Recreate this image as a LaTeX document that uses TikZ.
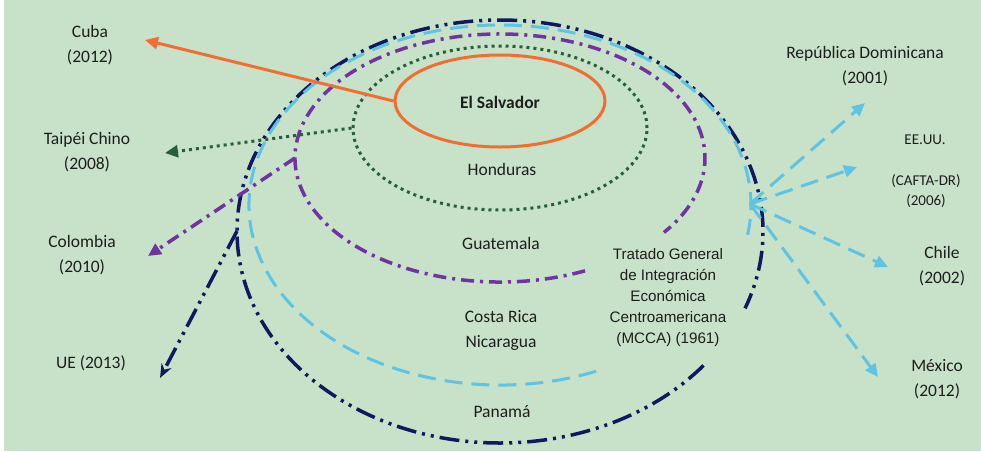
\documentclass[tikz,border=0pt]{standalone}
\usepackage{fontspec}
\setmainfont{Carlito}
\newfontfamily\arialfont{Liberation Sans}
\usetikzlibrary{shapes.geometric,arrows.meta,calc}
\definecolor{bg}{RGB}{200,225,201}
\definecolor{orng}{RGB}{240,110,50}
\definecolor{dgreen}{RGB}{38,96,58}
\definecolor{purp}{RGB}{112,52,160}
\definecolor{lblue}{RGB}{95,195,225}
\definecolor{navy}{RGB}{15,25,95}
\definecolor{txt}{RGB}{30,30,30}
\begin{document}
\begin{tikzpicture}[x=1pt,y=-1pt,
  lbl/.style={font=\fontsize{17.5}{25}\selectfont, text=txt, align=center, inner sep=0pt},
  smalllbl/.style={font=\fontsize{15}{20}\selectfont, text=txt, align=center, inner sep=0pt},
  tratado/.style={font=\arialfont\fontsize{15.2}{21.2}\selectfont, text=txt, align=center, inner sep=0pt},
  orangeline/.style={draw=orng, line width=3pt},
  dotline/.style={draw=dgreen, line width=3pt, dash pattern=on 3pt off 4pt},
  purpline/.style={draw=purp, line width=3.5pt, dash pattern=on 13pt off 6pt on 3pt off 6pt},
  blueline/.style={draw=lblue, line width=3pt, dash pattern=on 18pt off 9pt},
  navyline/.style={draw=navy, line width=3.5pt, dash pattern=on 20pt off 6pt on 3pt off 6pt on 3pt off 6pt},
  tip/.style={-{Triangle[length=13pt,width=12pt]}},
  ntip/.style={-{Stealth[length=14pt,width=11pt]}}
]
\fill[white] (0,0) rectangle (981,451);
\fill[bg] (4,0) rectangle (981,451);
\useasboundingbox (0,0) rectangle (981,451);

% outer open ellipses
\draw[navyline] ($(500,231.5)+(39.3:263 and 211.5)$) arc[start angle=39.3, end angle=381.3, x radius=263, y radius=211.5];
\draw[blueline] ($(500,205)+(67.5:251 and 180)$) arc[start angle=67.5, end angle=369.5, x radius=251, y radius=180];
\draw[purpline] ($(500,158)+(65.5:205 and 124)$) arc[start angle=65.5, end angle=396.9, x radius=205, y radius=124];

% closed ellipses
\node[ellipse, dotline, minimum width=294pt, minimum height=164pt, inner sep=0pt] (hon) at (500,128) {};
\node[ellipse, orangeline, minimum width=210pt, minimum height=92pt, inner sep=0pt] (sal) at (500,101) {};

% connector start points
\coordinate (purpL) at (295,158);
\coordinate (navyL) at (237,231);
\coordinate (blueR) at (750,204);

% arrow end points
\coordinate (cubaT) at (145,40);
\coordinate (taipT) at (165,153);
\coordinate (colT) at (148,256);
\coordinate (ueT) at (160,378);
\coordinate (rdT) at (865,103);
\coordinate (usT) at (857,167);
\coordinate (chT) at (888,267);
\coordinate (mxT) at (878,377);

% labels
\node[lbl] (cuba) at (90,45.5) {Cuba\\(2012)};
\node[lbl] (taip) at (87,152.5) {Taipéi Chino\\(2008)};
\node[lbl] (col) at (82,255.5) {Colombia\\(2010)};
\node[lbl] (ue) at (91,363) {UE (2013)};
\node[lbl] (rd) at (865,66) {República Dominicana\\(2001)};
\node[smalllbl] (us) at (925,140) {EE.UU.};
\node[smalllbl] (cafta) at (926,191) {(CAFTA-DR)\\(2006)};
\node[lbl] (ch) at (942,266) {Chile\\(2002)};
\node[lbl] (mx) at (937,379.5) {México\\(2012)};

\node[lbl, font=\bfseries\fontsize{17.5}{25}\selectfont] (salt) at (500,102) {El Salvador};
\node[lbl] (hont) at (502,169) {Honduras};
\node[lbl] (gua) at (501,243) {Guatemala};
\node[lbl] (crn) at (501,330.5) {Costa Rica\\Nicaragua};
\node[lbl] (pan) at (502,412) {Panamá};
\node[tratado] (mcca) at (668,297.5) {Tratado General\\de Integración\\Económica\\Centroamericana\\(MCCA) (1961)};

% connectors
\draw[orangeline, tip, orng] (sal.west) -- (cubaT);
\draw[dotline, tip, dgreen] (hon.west) -- (taipT);
\draw[purpline, tip, purp] (purpL) -- (colT);
\draw[navyline, ntip, navy] (navyL) -- (ueT);
\draw[blueline, tip, lblue] (blueR) -- (rdT);
\draw[blueline, tip, lblue] (blueR) -- (usT);
\draw[blueline, tip, lblue] (blueR) -- (chT);
\draw[blueline, tip, lblue] (blueR) -- (mxT);
\end{tikzpicture}
\end{document}
